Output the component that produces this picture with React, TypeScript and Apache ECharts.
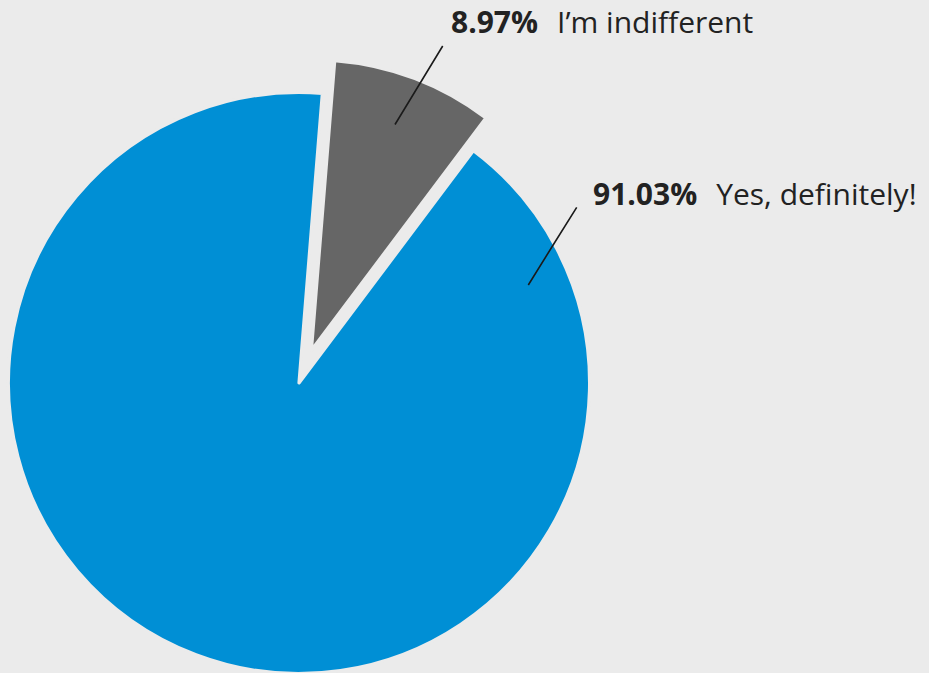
import React, { useEffect, useRef } from "react";
import * as echarts from "echarts";

const categories = ["Yes, definitely!", "I’m indifferent"];
const values = [91.03, 8.97];
const colors = ["#008fd5", "#666666"];
const explodedIndex = 1;

// label anchor positions and leader lines (layout only)
const labelAnchors = [
  { x: 593, y: 193, line: [[528.3, 285], [552.5, 246], [576.7, 207.3]] },
  { x: 451, y: 21, line: [[395, 124.5], [419, 85], [442.7, 46]] },
];

const BG = "#ebebeb";

export default function App() {
  const ref = useRef<HTMLDivElement>(null);
  useEffect(() => {
    if (!ref.current) return;
    const chart = echarts.init(ref.current, undefined, { renderer: "svg" });
    const pieData = categories.map((name, i) => ({
      name,
      value: values[i],
      selected: i === explodedIndex,
      itemStyle: { color: colors[i] },
    }));
    const labelData = categories.map((name, i) => ({
      name,
      value: values[i],
    }));
    const common = {
      type: "pie",
      center: [299, 383],
      radius: 290.6,
      startAngle: 53.1,
      clockwise: true,
      avoidLabelOverlap: false,
      emphasis: { disabled: true, scale: false },
    };
    chart.setOption({
      animation: false,
      backgroundColor: BG,
      series: [
        {
          ...common,
          z: 2,
          selectedMode: "single",
          selectedOffset: 35,
          itemStyle: { borderColor: BG, borderWidth: 3.2 },
          label: { show: false },
          labelLine: { show: false },
          data: pieData,
        },
        {
          ...common,
          z: 5,
          silent: true,
          selectedMode: false,
          itemStyle: { color: "rgba(0,0,0,0)", borderWidth: 0 },
          data: labelData,
          label: {
            show: true,
            position: "outside",
            formatter: "{p|{d}%}{n|{b}}",
            fontFamily: "Open Sans",
            color: "#222222",
            rich: {
              p: { fontFamily: "Open Sans", fontSize: 30, fontWeight: "bold", color: "#222222" },
              n: {
                fontFamily: "Open Sans",
                fontSize: 30,
                fontWeight: "normal",
                color: "#222222",
                padding: [0, 0, 0, 19],
              },
            },
          },
          labelLine: {
            show: true,
            length: 10,
            length2: 10,
            lineStyle: { color: "#1a1a1a", width: 1.6 },
          },
          labelLayout: (params: any) => {
            const a = labelAnchors[params.dataIndex];
            return {
              x: a.x,
              y: a.y,
              align: "left",
              verticalAlign: "middle",
              labelLinePoints: a.line,
            };
          },
        },
      ],
    });
    return () => chart.dispose();
  }, []);
  return (
    <div
      ref={ref}
      style={{ position: "fixed", left: 0, top: 0, width: 929, height: 673 }}
    />
  );
}
